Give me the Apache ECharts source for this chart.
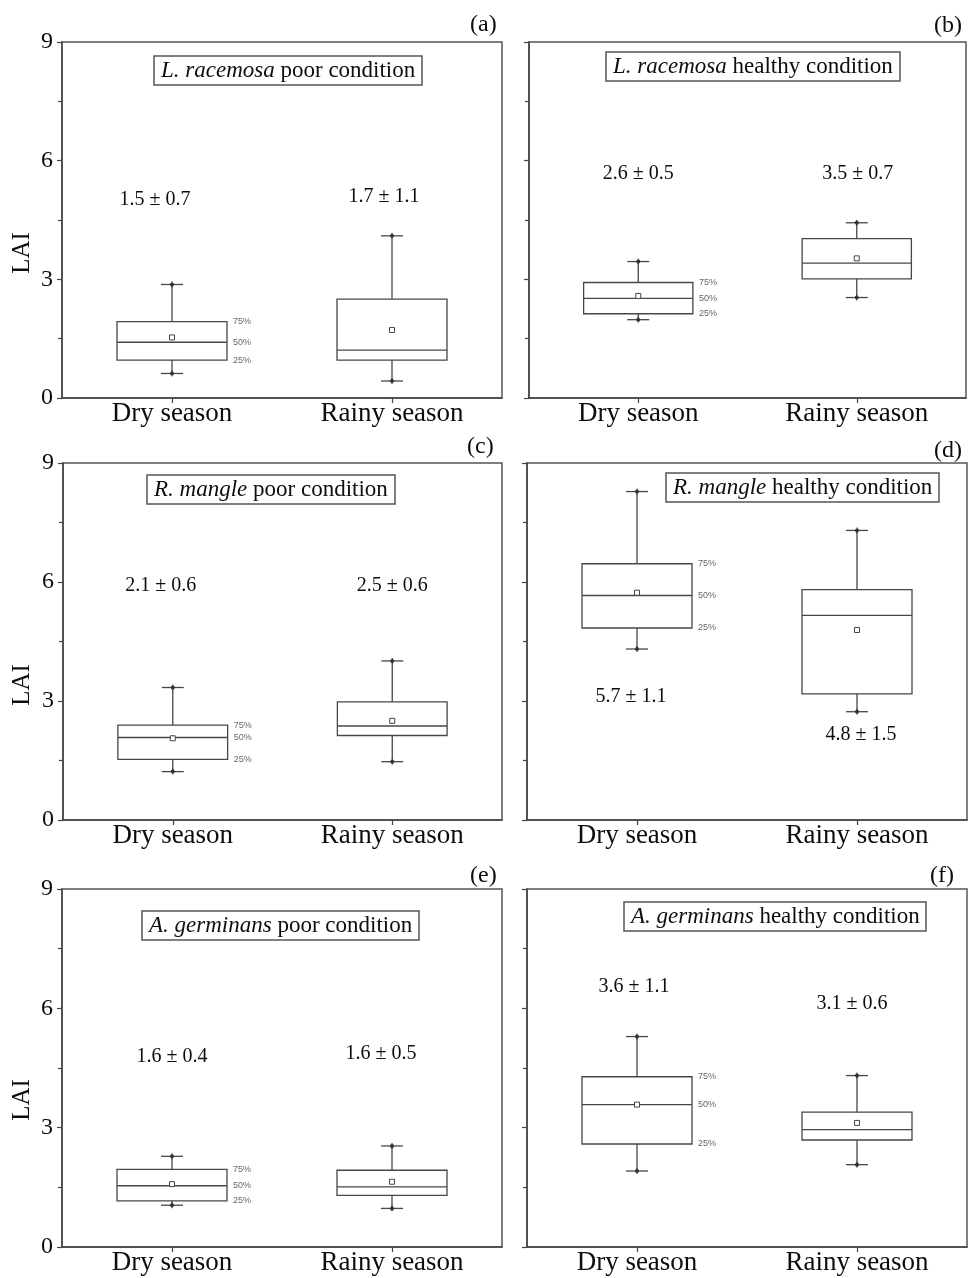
<!DOCTYPE html>
<html>
<head>
<meta charset="utf-8">
<script src="https://cdn.jsdelivr.net/npm/echarts@6/dist/echarts.min.js"></script>
<style>
html,body{margin:0;padding:0;background:#fff;}
#chart{width:968px;height:1278px;}
</style>
</head>
<body>
<div id="chart"></div>
<script>
// ---------------- DATA ----------------
const categories = ['Dry season', 'Rainy season'];
const yTickLabels = ['0', '3', '6', '9'];
const quantileLabels = ['75%', '50%', '25%'];
const axisName = 'LAI';

// each row: [min, Q1, median, Q3, max, mean]
const lrPoor    = [[0.62, 0.96, 1.41, 1.93, 2.87, 1.53], [0.43, 0.96, 1.21, 2.50, 4.10, 1.72]];
const lrHealthy = [[1.98, 2.13, 2.52, 2.92, 3.45, 2.58], [2.54, 3.01, 3.41, 4.03, 4.43, 3.53]];
const rmPoor    = [[1.22, 1.53, 2.08, 2.39, 3.34, 2.06], [1.47, 2.13, 2.37, 2.98, 4.01, 2.50]];
const rmHealthy = [[4.31, 4.84, 5.66, 6.46, 8.28, 5.73], [2.73, 3.18, 5.16, 5.81, 7.30, 4.79]];
const agPoor    = [[1.05, 1.16, 1.54, 1.95, 2.28, 1.58], [0.97, 1.30, 1.51, 1.93, 2.54, 1.64]];
const agHealthy = [[1.91, 2.59, 3.58, 4.28, 5.29, 3.58], [2.07, 2.69, 2.95, 3.39, 4.31, 3.12]];

const lrPoorText    = ['1.5 ± 0.7', '1.7 ± 1.1'];
const lrHealthyText = ['2.6 ± 0.5', '3.5 ± 0.7'];
const rmPoorText    = ['2.1 ± 0.6', '2.5 ± 0.6'];
const rmHealthyText = ['5.7 ± 1.1', '4.8 ± 1.5'];
const agPoorText    = ['1.6 ± 0.4', '1.6 ± 0.5'];
const agHealthyText = ['3.6 ± 1.1', '3.1 ± 0.6'];

const panelLetters = ['(a)', '(b)', '(c)', '(d)', '(e)', '(f)'];
const panelSpecies = ['L. racemosa', 'L. racemosa', 'R. mangle', 'R. mangle', 'A. germinans', 'A. germinans'];
const panelConditions = ['poor condition', 'healthy condition', 'poor condition', 'healthy condition', 'poor condition', 'healthy condition'];

// ---------------- LAYOUT ----------------
const panelData = [lrPoor, lrHealthy, rmPoor, rmHealthy, agPoor, agHealthy];
const panelText = [lrPoorText, lrHealthyText, rmPoorText, rmHealthyText, agPoorText, agHealthyText];
const layout = [
  {grid:{left:62, top:42, width:440, height:356}, box:{left:154, top:56}, letter:{left:470, top:13}, lai:[22,253], annot:[[5.0,-17],[5.1,-8]], showY:true},
  {grid:{left:529, top:42, width:437, height:356}, box:{left:606, top:52}, letter:{left:934, top:14}, lai:null, annot:[[5.66,0],[5.66,1]], showY:false},
  {grid:{left:63, top:463, width:439, height:357}, box:{left:147, top:475}, letter:{left:467, top:435}, lai:[22,685], annot:[[5.9,-12],[5.9,0]], showY:true},
  {grid:{left:527, top:463, width:440, height:357}, box:{left:666, top:473}, letter:{left:934, top:439}, lai:null, annot:[[3.11,-6],[2.14,4]], showY:false},
  {grid:{left:62, top:889, width:440, height:358}, box:{left:142, top:911}, letter:{left:470, top:864}, lai:[22,1100], annot:[[4.78,0],[4.87,-11]], showY:true},
  {grid:{left:527, top:889, width:440, height:358}, box:{left:624, top:902}, letter:{left:930, top:864}, lai:null, annot:[[6.55,-3],[6.11,-5]], showY:false}
];

const SERIF = 'Liberation Serif, Times New Roman, serif';
const SANS = 'Liberation Sans, Arial, sans-serif';
const INK = '#0d0d0d';
const LINE = '#474747';

const grids = [], xAxes = [], yAxes = [], series = [], titles = [], graphics = [];

layout.forEach((L, i) => {
  grids.push(Object.assign({show:true, borderColor:'#555', borderWidth:1.5, backgroundColor:'transparent'}, L.grid));
  xAxes.push({
    type:'category', gridIndex:i, data:categories, boundaryGap:true,
    axisLine:{show:true, lineStyle:{color:'#444', width:1.5}},
    axisTick:{show:true, alignWithLabel:true, length:5, lineStyle:{color:'#444', width:1.2}},
    axisLabel:{show:true, margin:2, fontFamily:SERIF, fontSize:27, color:INK},
    splitLine:{show:false}
  });
  yAxes.push({
    type:'value', gridIndex:i, min:0, max:9, interval:3,
    axisLine:{show:true, lineStyle:{color:'#444', width:1.5}},
    axisTick:{show:true, length:5, lineStyle:{color:'#444', width:1.2}},
    minorTick:{show:true, splitNumber:2, length:4, lineStyle:{color:'#444', width:1.2}},
    axisLabel:{show:L.showY, margin:9, fontFamily:SERIF, fontSize:24, color:INK,
      formatter: v => yTickLabels[Math.round(v/3)] || ''},
    splitLine:{show:false}, minorSplitLine:{show:false}
  });
  const data = panelData[i].map((r, k) => [k].concat(r));
  series.push({
    type:'custom', xAxisIndex:i, yAxisIndex:i,
    encode:{x:0, y:[1,2,3,4,5,6]},
    data:data,
    silent:true,
    renderItem:(params, api) => {
      const si = params.seriesIndex, di = params.dataIndex;
      const c = api.value(0);
      const pt = v => api.coord([c, v]);
      const cx = pt(api.value(1))[0];
      const bw = api.size([1, 0])[0] * 0.5;
      const yMin = pt(api.value(1))[1], yQ1 = pt(api.value(2))[1], yMed = pt(api.value(3))[1],
            yQ3 = pt(api.value(4))[1], yMax = pt(api.value(5))[1], yMean = pt(api.value(6))[1];
      const st = {stroke:LINE, lineWidth:1.3, fill:null};
      const ch = [];
      ch.push({type:'rect', shape:{x:cx-bw/2, y:yQ3, width:bw, height:yQ1-yQ3}, style:Object.assign({}, st, {fill:'none'})});
      ch.push({type:'line', shape:{x1:cx-bw/2, y1:yMed, x2:cx+bw/2, y2:yMed}, style:st});
      ch.push({type:'line', shape:{x1:cx, y1:yQ3, x2:cx, y2:yMax}, style:st});
      ch.push({type:'line', shape:{x1:cx, y1:yQ1, x2:cx, y2:yMin}, style:st});
      ch.push({type:'line', shape:{x1:cx-11, y1:yMax, x2:cx+11, y2:yMax}, style:st});
      ch.push({type:'line', shape:{x1:cx-11, y1:yMin, x2:cx+11, y2:yMin}, style:st});
      [yMax, yMin].forEach(yy => {
        ch.push({type:'circle', shape:{cx:cx, cy:yy, r:2}, style:{fill:'#333'}});
        ch.push({type:'line', shape:{x1:cx, y1:yy-3, x2:cx, y2:yy+3}, style:{stroke:'#333', lineWidth:1}});
      });
      ch.push({type:'rect', shape:{x:cx-2.5, y:yMean-2.5, width:5, height:5}, style:{stroke:'#444', lineWidth:1, fill:'#fff'}});
      if (di === 0) {
        [yQ3, yMed, yQ1].forEach((yy, q) => {
          ch.push({type:'text', x:cx+bw/2+6, y:yy, style:{text:quantileLabels[q], fontFamily:SANS, fontSize:9, fill:'#666', align:'left', verticalAlign:'middle'}});
        });
      }
      const an = layout[si].annot[di];
      const ap = pt(an[0]);
      ch.push({type:'text', x:ap[0]+an[1], y:ap[1], style:{text:panelText[si][di], fontFamily:SERIF, fontSize:20, fill:INK, align:'center', verticalAlign:'middle'}});
      return {type:'group', children:ch};
    }
  });
  titles.push({
    text:'{i|' + panelSpecies[i] + '} ' + panelConditions[i],
    left:L.box.left, top:L.box.top, padding:[3, 7],
    borderColor:'#555', borderWidth:1.5, backgroundColor:'#fff',
    textStyle:{fontFamily:SERIF, fontSize:23, fontWeight:'normal', color:INK,
      rich:{i:{fontFamily:SERIF, fontSize:23, fontStyle:'italic', color:INK}}}
  });
  titles.push({
    text:panelLetters[i], left:L.letter.left, top:L.letter.top, padding:0,
    textStyle:{fontFamily:SERIF, fontSize:24, fontWeight:'normal', color:INK}
  });
  if (L.lai) {
    graphics.push({type:'text', x:L.lai[0], y:L.lai[1], rotation:Math.PI/2,
      style:{text:axisName, fontFamily:SERIF, fontSize:25, fill:INK, align:'center', verticalAlign:'middle'}});
  }
});

const chart = echarts.init(document.getElementById('chart'), null, {renderer:'canvas'});
chart.setOption({
  backgroundColor:'#fff',
  animation:false,
  title:titles,
  grid:grids,
  xAxis:xAxes,
  yAxis:yAxes,
  series:series,
  graphic:graphics
});
</script>
</body>
</html>
